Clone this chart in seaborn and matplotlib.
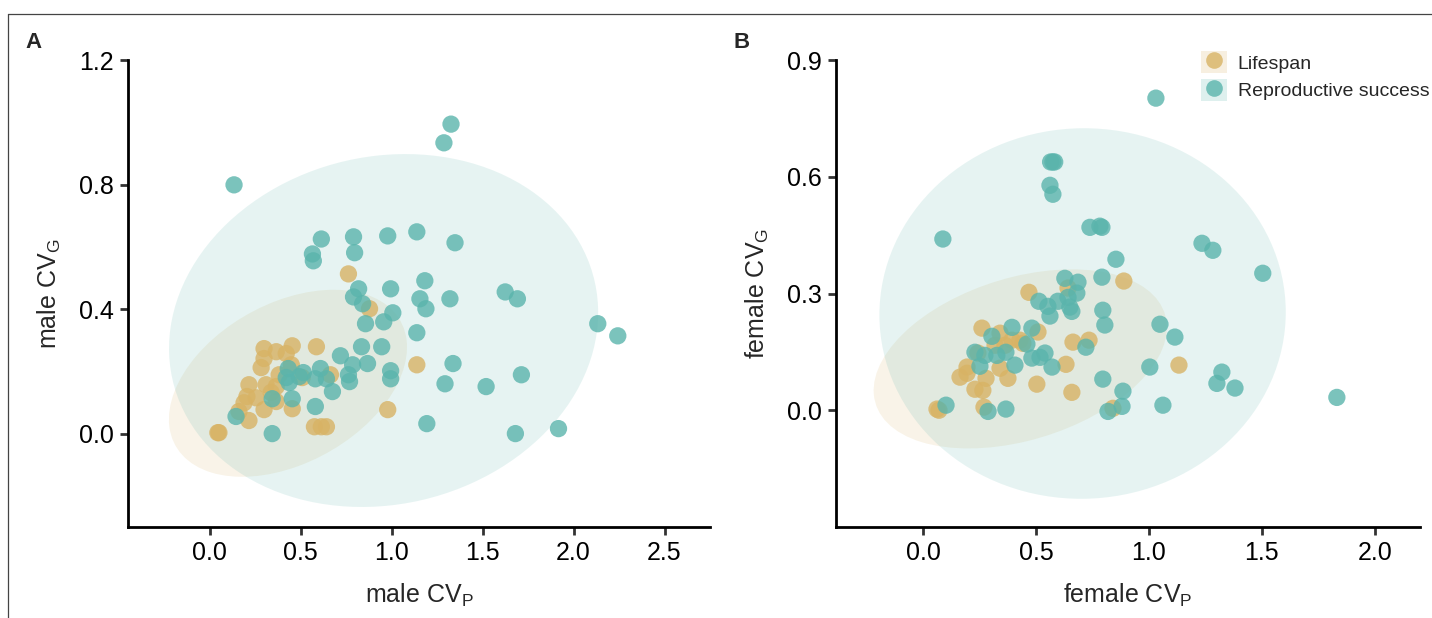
import numpy as np
import pandas as pd
import matplotlib
matplotlib.use("Agg")
import matplotlib.pyplot as plt
from matplotlib.patches import Ellipse, Rectangle
from matplotlib.lines import Line2D
from matplotlib.legend_handler import HandlerTuple
import seaborn as sns

# ---------------- data ----------------
groups = ["Lifespan", "Reproductive success"]
colors = {"Lifespan": "#D8B365", "Reproductive success": "#5AB4AC"}

male_cvp_ls = [0.762, 0.878, 1.138, 0.978, 0.586, 0.453, 0.298, 0.365, 0.420, 0.298, 0.282, 0.448,
               0.381, 0.508, 0.663, 0.215, 0.309, 0.365, 0.337, 0.204, 0.254, 0.365, 0.160, 0.298,
               0.453, 0.215, 0.050, 0.044, 0.575, 0.641, 0.188, 0.613]
male_cvg_ls = [0.513, 0.401, 0.221, 0.077, 0.279, 0.282, 0.273, 0.263, 0.257, 0.241, 0.212, 0.221,
               0.189, 0.180, 0.189, 0.157, 0.157, 0.151, 0.132, 0.119, 0.115, 0.103, 0.071, 0.077,
               0.080, 0.042, 0.003, 0.003, 0.022, 0.022, 0.099, 0.022]

male_cvp_rs = [0.133, 1.287, 1.326, 0.613, 0.564, 0.569, 0.790, 0.796, 0.978, 1.138, 1.348, 1.182,
               0.818, 0.790, 0.994, 1.155, 1.188, 1.320, 0.840, 1.006, 0.856, 0.956, 1.138, 0.834,
               0.945, 0.718, 0.785, 0.867, 0.608, 0.762, 0.768, 0.994, 0.994, 1.337, 1.293, 0.431,
               0.420, 0.436, 0.492, 0.514, 0.580, 0.641, 0.674, 0.453, 0.343, 0.580, 0.144, 0.343,
               1.193, 1.624, 1.691, 2.133, 2.243, 1.519, 1.713, 1.680, 1.917]
male_cvg_rs = [0.799, 0.934, 0.994, 0.625, 0.577, 0.555, 0.632, 0.581, 0.635, 0.648, 0.613, 0.491,
               0.465, 0.439, 0.465, 0.433, 0.401, 0.433, 0.417, 0.388, 0.353, 0.359, 0.324, 0.279,
               0.279, 0.250, 0.221, 0.225, 0.209, 0.189, 0.167, 0.202, 0.176, 0.225, 0.160, 0.209,
               0.180, 0.164, 0.183, 0.196, 0.176, 0.176, 0.135, 0.112, 0.112, 0.087, 0.055, 0.000,
               0.032, 0.455, 0.433, 0.353, 0.314, 0.151, 0.189, 0.000, 0.016]

female_cvp_ls = [0.889, 0.469, 0.642, 0.509, 0.261, 0.341, 0.429, 0.442, 0.664, 0.735, 0.633, 0.195,
                 0.164, 0.279, 0.376, 0.341, 0.230, 0.265, 0.504, 0.659, 0.270, 0.071, 0.062, 0.841,
                 1.133, 0.243, 0.195, 0.363, 0.394, 0.319]
female_cvg_ls = [0.332, 0.303, 0.314, 0.201, 0.211, 0.198, 0.180, 0.172, 0.175, 0.180, 0.118, 0.111,
                 0.085, 0.082, 0.082, 0.108, 0.054, 0.051, 0.067, 0.046, 0.008, 0.000, 0.003, 0.005,
                 0.116, 0.147, 0.095, 0.167, 0.180, 0.167]

female_cvp_rs = [1.031, 0.575, 0.565, 0.583, 0.562, 0.575, 0.088, 0.739, 0.792, 0.783, 1.235, 1.283,
                 0.854, 1.504, 0.628, 0.686, 0.681, 0.792, 0.513, 0.553, 0.597, 0.642, 0.650, 0.659,
                 0.562, 0.796, 0.805, 0.394, 0.482, 0.305, 0.230, 0.274, 0.327, 0.367, 0.460, 0.482,
                 0.518, 0.540, 0.407, 0.571, 0.721, 1.049, 1.115, 1.004, 1.323, 1.301, 1.381, 0.796,
                 0.885, 0.881, 0.819, 1.062, 1.832, 0.102, 0.288, 0.367, 0.252]
female_cvg_rs = [0.802, 0.638, 0.638, 0.638, 0.578, 0.555, 0.440, 0.470, 0.470, 0.473, 0.429, 0.411,
                 0.388, 0.352, 0.339, 0.329, 0.301, 0.342, 0.280, 0.267, 0.280, 0.290, 0.265, 0.254,
                 0.242, 0.257, 0.219, 0.213, 0.211, 0.190, 0.149, 0.141, 0.141, 0.149, 0.170, 0.134,
                 0.136, 0.147, 0.116, 0.111, 0.162, 0.221, 0.188, 0.111, 0.098, 0.069, 0.057, 0.080,
                 0.049, 0.010, -0.003, 0.013, 0.033, 0.013, -0.003, 0.003, 0.113]

male_xticks = [0.0, 0.5, 1.0, 1.5, 2.0, 2.5]
male_yticks = [0.0, 0.4, 0.8, 1.2]
female_xticks = [0.0, 0.5, 1.0, 1.5, 2.0]
female_yticks = [0.0, 0.3, 0.6, 0.9]


def frame(cvp_ls, cvg_ls, cvp_rs, cvg_rs):
    return pd.DataFrame({
        "cvp": list(cvp_ls) + list(cvp_rs),
        "cvg": list(cvg_ls) + list(cvg_rs),
        "fitness": ["Lifespan"] * len(cvp_ls) + ["Reproductive success"] * len(cvp_rs),
    })


male_df = frame(male_cvp_ls, male_cvg_ls, male_cvp_rs, male_cvg_rs)
female_df = frame(female_cvp_ls, female_cvg_ls, female_cvp_rs, female_cvg_rs)

# ---------------- style ----------------
sns.set_style("ticks")
plt.rcParams["font.family"] = ["Liberation Sans", "DejaVu Sans"]
plt.rcParams["mathtext.default"] = "regular"

fig = plt.figure(figsize=(14.32, 6.18), dpi=100)
axA = fig.add_axes([128 / 1432, 1 - 527 / 618, (710 - 128) / 1432, (527 - 60) / 618])
axB = fig.add_axes([836 / 1432, 1 - 527 / 618, (1420 - 836) / 1432, (527 - 60) / 618])

LEVEL = 0.95


def draw_ellipses(ax, df):
    for g in groups:
        sub = df[df.fitness == g]
        xy = sub[["cvp", "cvg"]].to_numpy()
        n = len(xy)
        d2 = n - 1
        # F(2, n-1) quantile (closed form for 2 numerator df), as in stat_ellipse
        fq = d2 / 2 * ((1 - LEVEL) ** (-2 / d2) - 1)
        k = np.sqrt(2 * fq)
        mu = xy.mean(axis=0)
        cov = np.cov(xy.T)
        vals, vecs = np.linalg.eigh(cov)
        order = vals.argsort()[::-1]
        vals, vecs = vals[order], vecs[:, order]
        ang = np.degrees(np.arctan2(vecs[1, 0], vecs[0, 0]))
        w, h = 2 * k * np.sqrt(vals)
        ax.add_patch(Ellipse(mu, w, h, angle=ang, facecolor=colors[g], alpha=0.15,
                             edgecolor="none", zorder=1))


def style(ax, xlim, ylim, xt, yt, xlabel, ylabel):
    ax.set_xlim(*xlim)
    ax.set_ylim(*ylim)
    ax.set_xticks(xt)
    ax.set_yticks(yt)
    ax.set_xticklabels([f"{v:.1f}" for v in xt])
    ax.set_yticklabels([f"{v:.1f}" for v in yt])
    for s in ["top", "right"]:
        ax.spines[s].set_visible(False)
    for s in ["left", "bottom"]:
        ax.spines[s].set_linewidth(2.0)
        ax.spines[s].set_color("black")
    ax.tick_params(axis="both", direction="out", length=6, width=2.0, color="#333333",
                   labelsize=18, labelcolor="black", pad=4)
    ax.set_xlabel(xlabel, fontsize=18, labelpad=12)
    ax.set_ylabel(ylabel, fontsize=18, labelpad=12)
    ax.set_facecolor("none")


for ax, df in [(axA, male_df), (axB, female_df)]:
    draw_ellipses(ax, df)
    sns.scatterplot(data=df, x="cvp", y="cvg", hue="fitness", hue_order=groups,
                    palette=colors, s=155, alpha=0.8, linewidth=0, ax=ax, legend=False, zorder=3)

style(axA, (-0.45, 2.75), (-0.3, 1.2), male_xticks, male_yticks,
      "male CV$_P$", "male CV$_G$")
style(axB, (-0.385, 2.2), (-0.3, 0.9), female_xticks, female_yticks,
      "female CV$_P$", "female CV$_G$")

# legend in panel B
handles = []
for g in groups:
    box = Rectangle((0, 0), 1, 1, facecolor=colors[g], alpha=0.2, edgecolor="none")
    dot = Line2D([], [], marker="o", linestyle="none", markersize=12,
                 markerfacecolor=colors[g], markeredgewidth=0, alpha=0.8)
    handles.append((box, dot))
axB.legend(handles, groups, handler_map={tuple: HandlerTuple(ndivide=1, pad=0)},
           loc="upper right", bbox_to_anchor=(1.029, 1.035), frameon=False, fontsize=14,
           handlelength=1.34, handleheight=1.34, handletextpad=0.55, labelspacing=0.3,
           borderaxespad=0)

# panel letters
fig.text(33 / 1432, 1 - 42 / 618, "A", fontsize=16, fontweight="bold", va="center", ha="center")
fig.text(742 / 1432, 1 - 42 / 618, "B", fontsize=16, fontweight="bold", va="center", ha="center")

# outer frame (partially visible)
fig.add_artist(Line2D([8 / 1432, 1.0], [1 - 14 / 618] * 2, transform=fig.transFigure,
                      color="#444444", linewidth=0.9))
fig.add_artist(Line2D([8 / 1432] * 2, [0.0, 1 - 14 / 618], transform=fig.transFigure,
                      color="#444444", linewidth=0.9))

fig.savefig("out.png", dpi=100)
